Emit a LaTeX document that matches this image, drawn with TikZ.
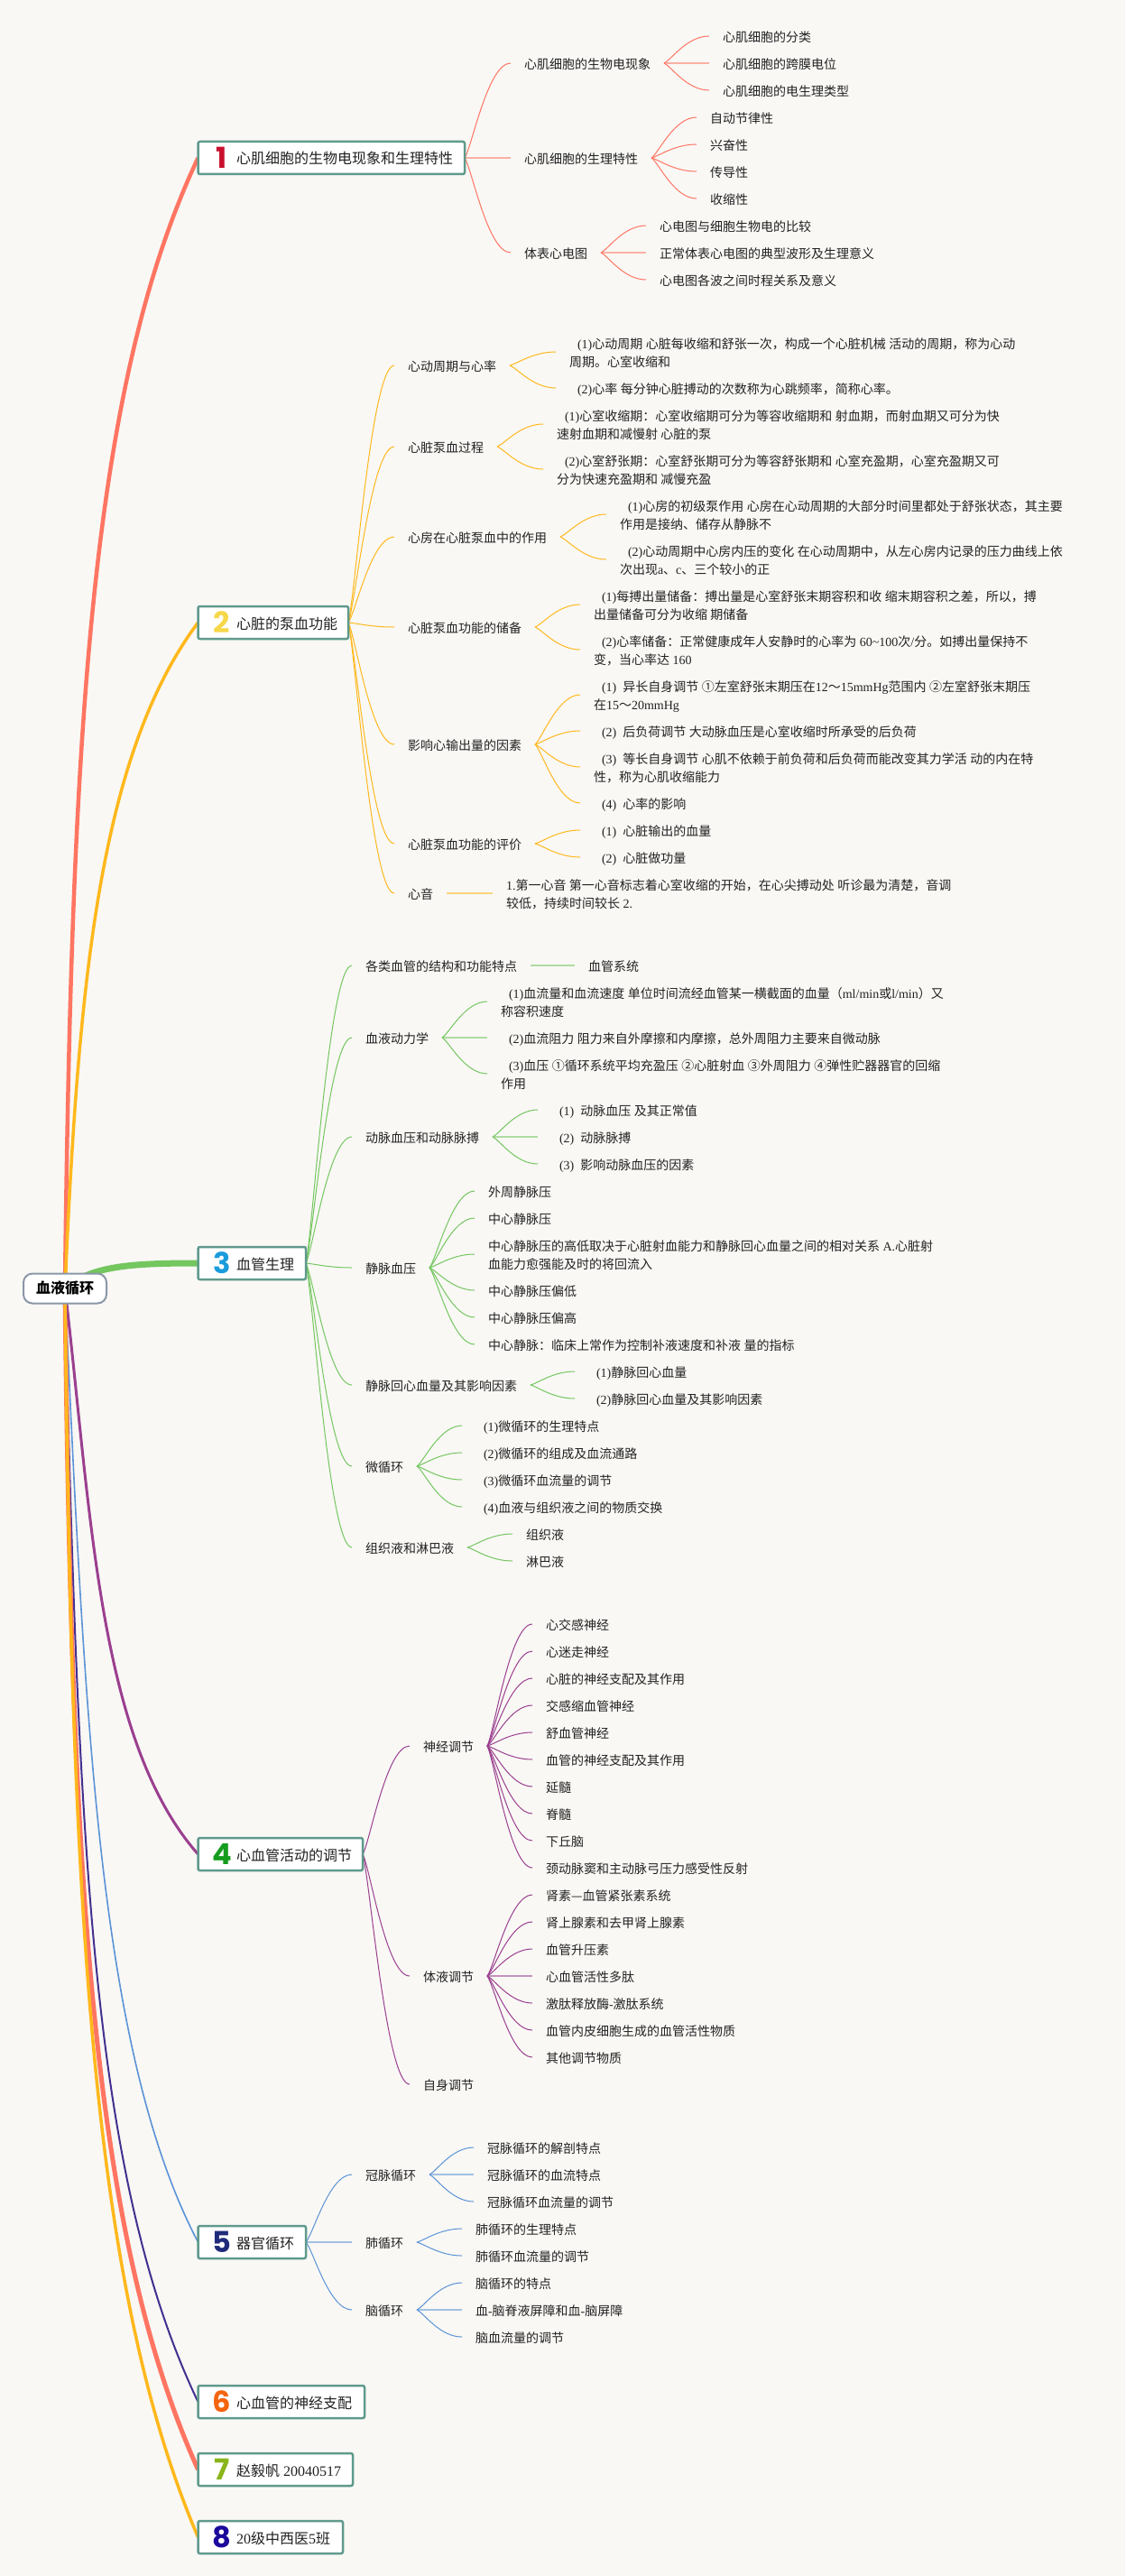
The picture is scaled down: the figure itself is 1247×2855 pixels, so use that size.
\documentclass[tikz,border=0pt]{standalone}
\usepackage{fontspec}
\usetikzlibrary{calc}
\setmainfont{Liberation Serif}
\newfontfamily\cjk{Noto Sans CJK SC}
\newfontfamily\numf{Poppins}
\newXeTeXintercharclass\cjkc
\newcount\cc
\cc="4E00 \loop\XeTeXcharclass\cc=\cjkc \advance\cc 1 \ifnum\cc<"A000 \repeat
\cc="3000 \loop\XeTeXcharclass\cc=\cjkc \advance\cc 1 \ifnum\cc<"3040 \repeat
\cc="FF00 \loop\XeTeXcharclass\cc=\cjkc \advance\cc 1 \ifnum\cc<"FFF0 \repeat
\cc="2460 \loop\XeTeXcharclass\cc=\cjkc \advance\cc 1 \ifnum\cc<"2474 \repeat
\XeTeXcharclass"2014=\cjkc
\XeTeXinterchartokenstate=1
\XeTeXinterchartoks 0 \cjkc={\begingroup\cjk}
\XeTeXinterchartoks \cjkc 0={\endgroup}
\XeTeXinterchartoks 255 \cjkc={\begingroup\cjk}
\XeTeXinterchartoks \cjkc 255={\endgroup}
\XeTeXinterchartoks 4095 \cjkc={\begingroup\cjk}
\XeTeXinterchartoks \cjkc 4095={\endgroup}
\pgfdeclarelayer{bg}
\pgfsetlayers{bg,main}
\definecolor{paper}{HTML}{F9F8F5}
\definecolor{ink}{HTML}{222222}
\definecolor{teal}{HTML}{5F9A8C}
\definecolor{rootedge}{HTML}{8B97A8}
\definecolor{cA}{HTML}{FF7562}
\definecolor{cB}{HTML}{FFB81C}
\definecolor{cC}{HTML}{74C65F}
\definecolor{cD}{HTML}{9B3F8F}
\definecolor{cE}{HTML}{5B93D6}
\definecolor{cF}{HTML}{43308F}
\definecolor{n1}{HTML}{C8102E}
\definecolor{n2}{HTML}{F6D84A}
\definecolor{n3}{HTML}{1A9BDC}
\definecolor{n4}{HTML}{169C1F}
\definecolor{n5}{HTML}{1F2B7A}
\definecolor{n6}{HTML}{F4650F}
\definecolor{n7}{HTML}{8AB51B}
\definecolor{n8}{HTML}{1C0A9C}
\newcommand\Lstrut{\rule[-3.4pt]{0pt}{19.4pt}}
\newcommand\indt{\hspace*{9pt}}
\newcommand\two[2]{\Lstrut #1\\\Lstrut #2}
\newcommand\topic[6]{\node[topicbox] (#1) at (219.5,#2) {\makebox[#3pt][l]{\hspace*{12.5pt}\makebox[28pt][c]{\raisebox{-4.5pt}{\numf\bfseries\fontsize{32}{32}\selectfont\textcolor{#5}{#4}}}\hspace*{2pt}#6}};}
\newcommand\itm[3]{\node[item] (#1) at #2 {\Lstrut #3};}
\newcommand\conn[3]{\draw[#3,line width=1pt] let \p1=(#1.east), \p2=(#2.west) in (\p1) .. controls ({\x1+.15*(\x2-\x1)},{\y1+.1*(\y2-\y1)}) and ({\x1+.5*(\x2-\x1)},{\y2}) .. (\p2);}
\newcommand\straight[3]{\draw[#3,line width=2pt,opacity=.55] (#1.east) -- (#2.west);}
\newcommand\kids[3]{\foreach \k in {#2}{\conn{#1}{\k}{#3}}}
\newcommand\trunk[7]{\draw[#2,line width=#3pt] let \p1=(root.center), \p2=(#1.west) in (\p1) .. controls ({\x1+#4*(\x2-\x1)},{\y1+#5*(\y2-\y1)}) and ({\x1+#6*(\x2-\x1)},{\y1+#7*(\y2-\y1)}) .. (\p2);}
\tikzset{
  topicbox/.style={draw=teal,fill=white,line width=2.5pt,anchor=west,inner sep=0pt,outer sep=0pt,rounded corners=2pt,text height=25pt,text depth=11pt,text=ink,font=\fontsize{16}{20}\selectfont},
  item/.style={anchor=west,inner xsep=15pt,inner ysep=0pt,outer sep=0pt,align=left,text=ink,font=\fontsize{14}{20}\selectfont},
  rootbox/.style={draw=rootedge,fill=white,line width=2pt,rounded corners=10pt,minimum width=92pt,minimum height=33pt,inner sep=0pt,outer sep=0pt,text=black,font=\fontsize{16}{20}\selectfont\bfseries}
}
\begin{document}
\begin{tikzpicture}[x=1pt,y=-1pt]
\begin{pgfonlayer}{bg}
\fill[paper] (0,0) rectangle (1247,2855);
\end{pgfonlayer}
\useasboundingbox (0,0) rectangle (1247,2855);
\node[rootbox] (root) at (72,1428) {血液循环};
% topics
\topic{a}{175}{295.5}{1}{n1}{心肌细胞的生物电现象和生理特性}
\topic{b}{690}{166.5}{2}{n2}{心脏的泵血功能}
\topic{c}{1400}{119.5}{3}{n3}{血管生理}
\topic{d}{2055}{182.5}{4}{n4}{心血管活动的调节}
\topic{e}{2485}{119.5}{5}{n5}{器官循环}
\topic{f}{2662}{184.5}{6}{n6}{心血管的神经支配}
\topic{g}{2737}{171.5}{7}{n7}{赵毅帆 20040517}
\topic{h}{2812}{160.5}{8}{n8}{20级中西医5班}
% section 1
\itm{a1}{(566,70)}{心肌细胞的生物电现象}
\itm{a2}{(566,175)}{心肌细胞的生理特性}
\itm{a3}{(566,280)}{体表心电图}
\itm{a1x}{(786,40)}{心肌细胞的分类}
\itm{a1y}{(786,70)}{心肌细胞的跨膜电位}
\itm{a1z}{(786,100)}{心肌细胞的电生理类型}
\itm{a2w}{(772,130)}{自动节律性}
\itm{a2x}{(772,160)}{兴奋性}
\itm{a2y}{(772,190)}{传导性}
\itm{a2z}{(772,220)}{收缩性}
\itm{a3x}{(716,250)}{心电图与细胞生物电的比较}
\itm{a3y}{(716,280)}{正常体表心电图的典型波形及生理意义}
\itm{a3z}{(716,310)}{心电图各波之间时程关系及意义}
% section 2
\itm{b1}{(437,405)}{心动周期与心率}
\itm{b2}{(437,495)}{心脏泵血过程}
\itm{b3}{(437,595)}{心房在心脏泵血中的作用}
\itm{b4}{(437,695)}{心脏泵血功能的储备}
\itm{b5}{(437,825)}{影响心输出量的因素}
\itm{b6}{(437,935)}{心脏泵血功能的评价}
\itm{b7}{(437,990)}{心音}
\node[item] (b1x) at (616,390) {\two{\indt (1)心动周期 心脏每收缩和舒张一次，构成一个心脏机械 活动的周期，称为心动}{周期。心室收缩和}};
\itm{b1y}{(616,430)}{\indt (2)心率 每分钟心脏搏动的次数称为心跳频率，简称心率。}
\node[item] (b2x) at (602,470) {\two{\indt (1)心室收缩期：心室收缩期可分为等容收缩期和 射血期，而射血期又可分为快}{速射血期和减慢射 心脏的泵}};
\node[item] (b2y) at (602,520) {\two{\indt (2)心室舒张期：心室舒张期可分为等容舒张期和 心室充盈期，心室充盈期又可}{分为快速充盈期和 减慢充盈}};
\node[item] (b3x) at (672,570) {\two{\indt (1)心房的初级泵作用 心房在心动周期的大部分时间里都处于舒张状态，其主要}{作用是接纳、储存从静脉不}};
\node[item] (b3y) at (672,620) {\two{\indt (2)心动周期中心房内压的变化 在心动周期中，从左心房内记录的压力曲线上依}{次出现a、c、三个较小的正}};
\node[item] (b4x) at (643,670) {\two{\indt (1)每搏出量储备：搏出量是心室舒张末期容积和收 缩末期容积之差，所以，搏}{出量储备可分为收缩 期储备}};
\node[item] (b4y) at (643,720) {\two{\indt (2)心率储备：正常健康成年人安静时的心率为 60\textasciitilde 100次/分。如搏出量保持不}{变，当心率达 160}};
\node[item] (b5w) at (643,770) {\two{\indt (1)\ \ 异长自身调节 ①左室舒张末期压在12～15mmHg范围内 ②左室舒张末期压}{在15～20mmHg}};
\itm{b5x}{(643,810)}{\indt (2)\ \ 后负荷调节 大动脉血压是心室收缩时所承受的后负荷}
\node[item] (b5y) at (643,850) {\two{\indt (3)\ \ 等长自身调节 心肌不依赖于前负荷和后负荷而能改变其力学活 动的内在特}{性，称为心肌收缩能力}};
\itm{b5z}{(643,890)}{\indt (4)\ \ 心率的影响}
\itm{b6x}{(643,920)}{\indt (1)\ \ 心脏输出的血量}
\itm{b6y}{(643,950)}{\indt (2)\ \ 心脏做功量}
\node[item] (b7x) at (546,990) {\two{1.第一心音 第一心音标志着心室收缩的开始，在心尖搏动处 听诊最为清楚，音调}{较低，持续时间较长 2.}};
% section 3
\itm{c1}{(390,1070)}{各类血管的结构和功能特点}
\itm{c2}{(390,1150)}{血液动力学}
\itm{c3}{(390,1260)}{动脉血压和动脉脉搏}
\itm{c4}{(390,1405)}{静脉血压}
\itm{c5}{(390,1535)}{静脉回心血量及其影响因素}
\itm{c6}{(390,1625)}{微循环}
\itm{c7}{(390,1715)}{组织液和淋巴液}
\itm{c1x}{(637,1070)}{血管系统}
\node[item] (c2x) at (540,1110) {\two{\indt (1)血流量和血流速度 单位时间流经血管某一横截面的血量（ml/min或l/min）又}{称容积速度}};
\itm{c2y}{(540,1150)}{\indt (2)血流阻力 阻力来自外摩擦和内摩擦，总外周阻力主要来自微动脉}
\node[item] (c2z) at (540,1190) {\two{\indt (3)血压 ①循环系统平均充盈压 ②心脏射血 ③外周阻力 ④弹性贮器器官的回缩}{作用}};
\itm{c3x}{(596,1230)}{\indt (1)\ \ 动脉血压 及其正常值}
\itm{c3y}{(596,1260)}{\indt (2)\ \ 动脉脉搏}
\itm{c3z}{(596,1290)}{\indt (3)\ \ 影响动脉血压的因素}
\itm{c4u}{(526,1320)}{外周静脉压}
\itm{c4v}{(526,1350)}{中心静脉压}
\node[item] (c4w) at (526,1390) {\two{中心静脉压的高低取决于心脏射血能力和静脉回心血量之间的相对关系 A.心脏射}{血能力愈强能及时的将回流入}};
\itm{c4x}{(526,1430)}{中心静脉压偏低}
\itm{c4y}{(526,1460)}{中心静脉压偏高}
\itm{c4z}{(526,1490)}{中心静脉：临床上常作为控制补液速度和补液 量的指标}
\itm{c5x}{(637,1520)}{\indt (1)静脉回心血量}
\itm{c5y}{(637,1550)}{\indt (2)静脉回心血量及其影响因素}
\itm{c6w}{(512,1580)}{\indt (1)微循环的生理特点}
\itm{c6x}{(512,1610)}{\indt (2)微循环的组成及血流通路}
\itm{c6y}{(512,1640)}{\indt (3)微循环血流量的调节}
\itm{c6z}{(512,1670)}{\indt (4)血液与组织液之间的物质交换}
\itm{c7x}{(568,1700)}{组织液}
\itm{c7y}{(568,1730)}{淋巴液}
% section 4
\itm{d1}{(454,1935)}{神经调节}
\itm{d2}{(454,2190)}{体液调节}
\itm{d3}{(454,2310)}{自身调节}
\itm{d1a}{(590,1800)}{心交感神经}
\itm{d1b}{(590,1830)}{心迷走神经}
\itm{d1c}{(590,1860)}{心脏的神经支配及其作用}
\itm{d1d}{(590,1890)}{交感缩血管神经}
\itm{d1e}{(590,1920)}{舒血管神经}
\itm{d1f}{(590,1950)}{血管的神经支配及其作用}
\itm{d1g}{(590,1980)}{延髓}
\itm{d1h}{(590,2010)}{脊髓}
\itm{d1i}{(590,2040)}{下丘脑}
\itm{d1j}{(590,2070)}{颈动脉窦和主动脉弓压力感受性反射}
\itm{d2a}{(590,2100)}{肾素—血管紧张素系统}
\itm{d2b}{(590,2130)}{肾上腺素和去甲肾上腺素}
\itm{d2c}{(590,2160)}{血管升压素}
\itm{d2d}{(590,2190)}{心血管活性多肽}
\itm{d2e}{(590,2220)}{激肽释放酶-激肽系统}
\itm{d2f}{(590,2250)}{血管内皮细胞生成的血管活性物质}
\itm{d2g}{(590,2280)}{其他调节物质}
% section 5
\itm{e1}{(390,2410)}{冠脉循环}
\itm{e2}{(390,2485)}{肺循环}
\itm{e3}{(390,2560)}{脑循环}
\itm{e1x}{(525,2380)}{冠脉循环的解剖特点}
\itm{e1y}{(525,2410)}{冠脉循环的血流特点}
\itm{e1z}{(525,2440)}{冠脉循环血流量的调节}
\itm{e2x}{(512,2470)}{肺循环的生理特点}
\itm{e2y}{(512,2500)}{肺循环血流量的调节}
\itm{e3x}{(512,2530)}{脑循环的特点}
\itm{e3y}{(512,2560)}{血-脑脊液屏障和血-脑屏障}
\itm{e3z}{(512,2590)}{脑血流量的调节}
% connectors
\begin{pgfonlayer}{bg}
\trunk{e}{cE}{1.6}{.15}{.45}{.25}{.8}
\trunk{f}{cF}{2}{.1}{.5}{.2}{.8}
\trunk{a}{cA}{4.5}{.05}{.5}{.2}{.8}
\trunk{g}{cA}{5}{.05}{.5}{.2}{.8}
\trunk{d}{cD}{3}{.2}{.4}{.25}{.8}
\trunk{b}{cB}{3.5}{.1}{.45}{.25}{.8}
\trunk{h}{cB}{3.5}{.05}{.5}{.2}{.8}
\trunk{c}{cC}{7}{.2}{.9}{.5}{1}
\kids{a}{a1,a3}{cA}\straight{a}{a2}{cA}
\kids{a1}{a1x,a1z}{cA}\straight{a1}{a1y}{cA}
\kids{a2}{a2w,a2x,a2y,a2z}{cA}
\kids{a3}{a3x,a3z}{cA}\straight{a3}{a3y}{cA}
\kids{b}{b1,b2,b3,b4,b5,b6,b7}{cB}
\kids{b1}{b1x,b1y}{cB}
\kids{b2}{b2x,b2y}{cB}
\kids{b3}{b3x,b3y}{cB}
\kids{b4}{b4x,b4y}{cB}
\kids{b5}{b5w,b5x,b5y,b5z}{cB}
\kids{b6}{b6x,b6y}{cB}
\straight{b7}{b7x}{cB}
\kids{c}{c1,c2,c3,c4,c5,c6,c7}{cC}
\straight{c1}{c1x}{cC}
\kids{c2}{c2x,c2z}{cC}\straight{c2}{c2y}{cC}
\kids{c3}{c3x,c3z}{cC}\straight{c3}{c3y}{cC}
\kids{c4}{c4u,c4v,c4w,c4x,c4y,c4z}{cC}
\kids{c5}{c5x,c5y}{cC}
\kids{c6}{c6w,c6x,c6y,c6z}{cC}
\kids{c7}{c7x,c7y}{cC}
\kids{d}{d1,d2,d3}{cD}
\kids{d1}{d1a,d1b,d1c,d1d,d1e,d1f,d1g,d1h,d1i,d1j}{cD}
\kids{d2}{d2a,d2b,d2c,d2e,d2f,d2g}{cD}\straight{d2}{d2d}{cD}
\kids{e}{e1,e3}{cE}\straight{e}{e2}{cE}
\kids{e1}{e1x,e1z}{cE}\straight{e1}{e1y}{cE}
\kids{e2}{e2x,e2y}{cE}
\kids{e3}{e3x,e3z}{cE}\straight{e3}{e3y}{cE}
\end{pgfonlayer}
\end{tikzpicture}
\end{document}
